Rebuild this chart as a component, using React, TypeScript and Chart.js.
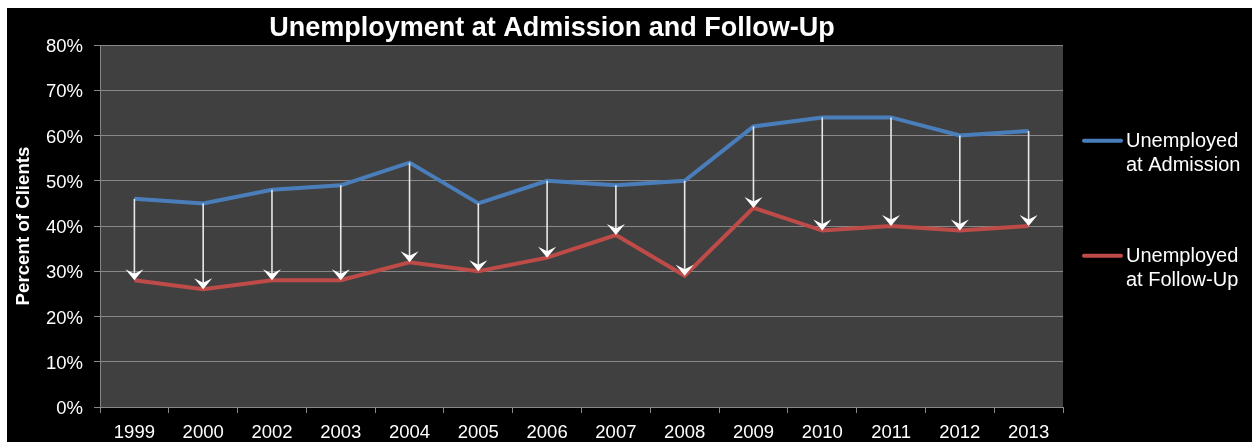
import React, { useEffect, useRef } from "react";
import { Chart, registerables } from "chart.js";

Chart.register(...registerables);

const years = ["1999", "2000", "2002", "2003", "2004", "2005", "2006", "2007", "2008", "2009", "2010", "2011", "2012", "2013"];
const admission = [46, 45, 48, 49, 54, 45, 50, 49, 50, 62, 64, 64, 60, 61];
const followUp = [28, 26, 28, 28, 32, 30, 33, 38, 29, 44, 39, 40, 39, 40];
const seriesLabels = [
  ["Unemployed", "at Admission"],
  ["Unemployed", "at Follow-Up"],
];
const seriesColors = ["#4a7ebb", "#be4b48"];
const chartTitle = "Unemployment at Admission and Follow-Up";
const yAxisTitle = "Percent of Clients";
const yMin = 0;
const yMax = 80;
const yStep = 10;

const FONT = "'Liberation Sans', Arial, sans-serif";
const GRID = "#888888";

const backgroundPlugin = {
  id: "bgFill",
  beforeDraw(chart: any) {
    const { ctx, chartArea } = chart;
    ctx.save();
    ctx.fillStyle = "#000000";
    ctx.fillRect(0, 0, chart.width, chart.height);
    ctx.fillStyle = "#404040";
    ctx.fillRect(chartArea.left, chartArea.top, chartArea.right - chartArea.left, chartArea.bottom - chartArea.top);
    ctx.restore();
  },
};

const arrowsPlugin = {
  id: "dropArrows",
  afterDatasetsDraw(chart: any) {
    const { ctx } = chart;
    const from = chart.getDatasetMeta(0).data;
    const to = chart.getDatasetMeta(1).data;
    ctx.save();
    for (let i = 0; i < from.length; i++) {
      const x = from[i].x;
      const y0 = from[i].y;
      const y1 = to[i].y;
      ctx.strokeStyle = "#e8e8e8";
      ctx.lineWidth = 1.6;
      ctx.beginPath();
      ctx.moveTo(x, y0);
      ctx.lineTo(x, y1 - 6);
      ctx.stroke();
      ctx.fillStyle = "#ffffff";
      ctx.beginPath();
      ctx.moveTo(x, y1);
      ctx.lineTo(x - 9, y1 - 11);
      ctx.lineTo(x, y1 - 6.5);
      ctx.lineTo(x + 9, y1 - 11);
      ctx.closePath();
      ctx.fill();
    }
    ctx.restore();
  },
};

const titlePlugin = {
  id: "customTitle",
  afterDraw(chart: any) {
    const { ctx } = chart;
    ctx.save();
    ctx.fillStyle = "#ffffff";
    ctx.font = `bold 27px ${FONT}`;
    ctx.textAlign = "center";
    ctx.textBaseline = "alphabetic";
    ctx.fillText(chartTitle, 545, 28);
    ctx.restore();
  },
};

const legendPlugin = {
  id: "customLegend",
  afterDraw(chart: any) {
    const { ctx } = chart;
    const rows = [132.7, 247.7];
    ctx.save();
    ctx.font = `20px ${FONT}`;
    ctx.textAlign = "left";
    ctx.textBaseline = "alphabetic";
    for (let i = 0; i < seriesLabels.length; i++) {
      const y = rows[i];
      ctx.strokeStyle = seriesColors[i];
      ctx.lineWidth = 4;
      ctx.lineCap = "round";
      ctx.beginPath();
      ctx.moveTo(1077, y);
      ctx.lineTo(1114, y);
      ctx.stroke();
      ctx.fillStyle = "#ffffff";
      seriesLabels[i].forEach((line, j) => {
        ctx.fillText(line, 1119, y + 6.5 + j * 23.3);
      });
    }
    ctx.restore();
  },
};

export default function App() {
  const canvasRef = useRef<HTMLCanvasElement | null>(null);

  useEffect(() => {
    if (!canvasRef.current) return;
    const chart = new Chart(canvasRef.current, {
      type: "line",
      data: {
        labels: years,
        datasets: [
          {
            label: seriesLabels[0].join(" "),
            data: admission,
            borderColor: seriesColors[0],
            backgroundColor: seriesColors[0],
            borderWidth: 4,
            pointRadius: 0,
            tension: 0,
          },
          {
            label: seriesLabels[1].join(" "),
            data: followUp,
            borderColor: seriesColors[1],
            backgroundColor: seriesColors[1],
            borderWidth: 4,
            pointRadius: 0,
            tension: 0,
          },
        ],
      },
      options: {
        animation: false,
        responsive: true,
        maintainAspectRatio: false,
        layout: { padding: { top: 37, right: 189, left: 0, bottom: 0 } },
        plugins: {
          legend: { display: false },
          title: { display: false },
          tooltip: { enabled: false },
        },
        scales: {
          x: {
            type: "category",
            offset: true,
            grid: {
              offset: true,
              drawOnChartArea: false,
              drawTicks: true,
              tickLength: 6,
              color: GRID,
            },
            border: { display: true, color: GRID, width: 1 },
            ticks: {
              color: "#ffffff",
              font: { family: FONT, size: 18.5 },
              padding: 9,
              maxRotation: 0,
              autoSkip: false,
            },
            afterFit(scale: any) {
              scale.height = 35;
            },
          },
          y: {
            min: yMin,
            max: yMax,
            grid: {
              color: GRID,
              tickLength: 6,
              drawTicks: true,
            },
            border: { display: true, color: GRID, width: 1 },
            ticks: {
              stepSize: yStep,
              color: "#ffffff",
              font: { family: FONT, size: 18.5 },
              padding: 11,
              labelOffset: 2,
              callback: (v: any) => `${v}%`,
            },
            title: {
              display: true,
              text: yAxisTitle,
              color: "#ffffff",
              font: { family: FONT, size: 18.7, weight: "bold", lineHeight: 1.2 },
              padding: { top: 6, bottom: 0 },
            },
            afterFit(scale: any) {
              scale.width = 93;
            },
          },
        },
      },
      plugins: [backgroundPlugin, arrowsPlugin, titlePlugin, legendPlugin],
    } as any);
    return () => chart.destroy();
  }, []);

  return (
    <div style={{ position: "absolute", left: 7, top: 8, width: 1245, height: 434 }}>
      <canvas ref={canvasRef} />
    </div>
  );
}
